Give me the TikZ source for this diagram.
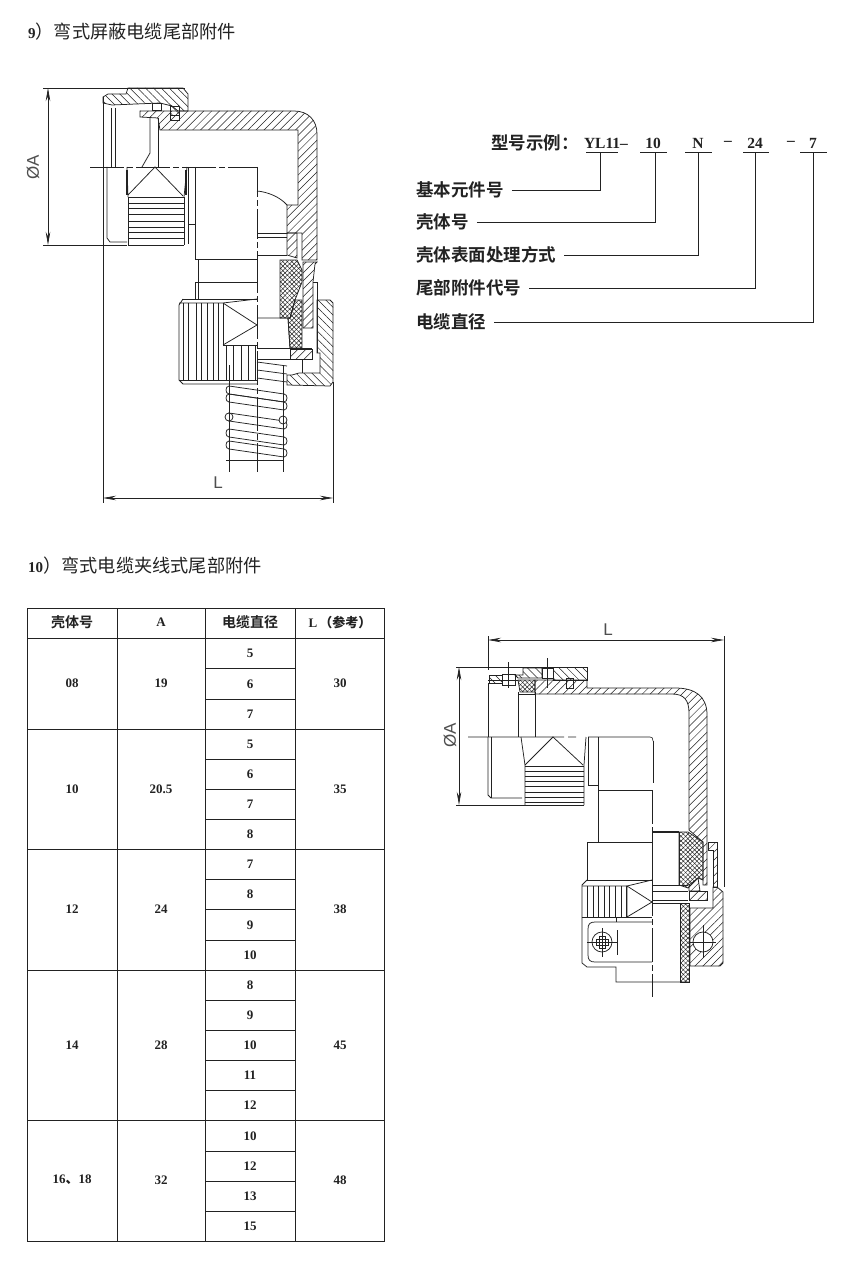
\documentclass[tikz,border=0pt]{standalone}
\usepackage{fontspec}
\setmainfont{Liberation Serif}
\newfontfamily\cjk{Noto Sans CJK SC}
\newfontfamily\cjkb{Noto Sans CJK SC Bold}
\newfontfamily\dimf{Liberation Sans}
\usetikzlibrary{arrows.meta,patterns.meta}
\definecolor{ink}{HTML}{222222}
\tikzset{
  base/.style={line width=.75pt,draw=ink},
  thin line/.style={line width=.55pt,draw=ink},
  hatch/.style={base,pattern={Lines[angle=45,distance=5.6pt,line width=.5pt]},pattern color=ink},
  hatchb/.style={base,pattern={Lines[angle=-45,distance=5.6pt,line width=.5pt]},pattern color=ink},
  xhatch/.style={base,preaction={pattern={Lines[angle=45,distance=3.2pt,line width=.5pt]},pattern color=ink},pattern={Lines[angle=-45,distance=3.2pt,line width=.5pt]},pattern color=ink},
  dimline/.style={line width=.7pt,draw=ink,{Stealth[length=13pt,width=4.5pt]}-{Stealth[length=13pt,width=4.5pt]}},
  center/.style={line width=.6pt,draw=ink,dash pattern=on 34pt off 3pt on 6pt off 3pt},
  ttl/.style={inner sep=0,anchor=west,font=\cjk\fontsize{18.2}{19}\selectfont,text=ink},
  lab/.style={inner sep=0,anchor=west,font=\cjkb\fontsize{17.5}{18}\selectfont,text=ink},
  code/.style={inner sep=0,font=\bfseries\fontsize{15.5}{16}\selectfont,text=ink},
  cell/.style={inner sep=0,font=\bfseries\fontsize{13}{14}\selectfont,text=ink},
  head/.style={inner sep=0,font=\cjkb\fontsize{14}{15}\selectfont,text=ink},
  dimt/.style={inner sep=0,font=\dimf\fontsize{17}{18}\selectfont,text=ink!80},
  tline/.style={line width=.8pt,draw=ink},
  leader/.style={line width=.8pt,draw=ink}
}
\begin{document}
\begin{tikzpicture}[x=1pt,y=-1pt]
\useasboundingbox (0,0) rectangle (850,1273);
\fill[white] (0,0) rectangle (850,1273);

% ---------- titles
\node[ttl] (t9) at (28,32) {{\fontspec{Liberation Serif}\fontsize{15}{16}\selectfont\bfseries 9}）弯式屏蔽电缆尾部附件};
\node[ttl] (t10) at (28,566) {{\fontspec{Liberation Serif}\fontsize{15}{16}\selectfont\bfseries 10}）弯式电缆夹线式尾部附件};

% ---------- model code
\node[lab,anchor=east] (mh) at (579,143) {型号示例：};
\node[code] (m1) at (606,143) {YL11–};
\node[code] (m2) at (653,143) {10};
\node[code] (m3) at (698,143) {N};
\node[code] (m4) at (728,143) {–};
\node[code] (m5) at (755,143) {24};
\node[code] (m6) at (791,143) {–};
\node[code] (m7) at (813,143) {7};
\foreach \a/\b/\n/\x in {586/618/u1/600,640/667/u2/655,685/712/u3/698,743/769/u4/755,800/827/u5/813}{
  \draw[leader] (\a,152) -- (\b,152);
  \coordinate (\n) at (\x,152);
}
\node[lab] (l1) at (416,190) {基本元件号};
\node[lab] (l2) at (416,222) {壳体号};
\node[lab] (l3) at (416,255) {壳体表面处理方式};
\node[lab] (l4) at (416,288) {尾部附件代号};
\node[lab] (l5) at (416,322) {电缆直径};
\draw[leader] ([xshift=8pt]l1.east) -| (u1);
\draw[leader] ([xshift=8pt]l2.east) -| (u2);
\draw[leader] ([xshift=8pt]l3.east) -| (u3);
\draw[leader] ([xshift=8pt]l4.east) -| (u4);
\draw[leader] ([xshift=8pt]l5.east) -| (u5);

% ---------- table
\draw[tline] (27,608) rectangle (384,1241);
\foreach \x in {117,205,295} \draw[tline] (\x,608) -- (\x,1241);
\foreach \y in {638,729,849,970,1120} \draw[tline] (27,\y) -- (384,\y);
\foreach \y in {668,699,759,789,819,879,909,940,1000,1030,1060,1090,1151,1181,1211} \draw[tline] (205,\y) -- (295,\y);
\node[head] (h1) at (72,622) {壳体号};
\node[cell] (h2) at (161,622) {A};
\node[head] (h3) at (250,622) {电缆直径};
\node[cell] (h4) at (340,622) {L\,{\cjkb（参考）}};
\foreach \y/\a/\b/\c [count=\i] in {683/08/19/30,789/10/20.5/35,909/12/24/38,1045/14/28/45,1180/{16{\cjkb 、}18}/32/48}{
  \node[cell] (sa\i) at (72,\y) {\a};
  \node[cell] (sb\i) at (161,\y) {\b};
  \node[cell] (sc\i) at (340,\y) {\c};
}
\foreach \y/\t [count=\i] in {653/5,684/6,714/7,744/5,774/6,804/7,834/8,864/7,894/8,925/9,955/10,985/8,1015/9,1045/10,1075/11,1105/12,1136/10,1166/12,1196/13,1226/15}{
  \node[cell] (d\i) at (250,\y) {\t};
}

% ---------- upper connector drawing
\draw[thin line] (43,88) -- (185,88);
\draw[thin line] (43,245) -- (127,245);
\draw[dimline] (48,88) -- (48,245);
\node[dimt,rotate=90] (da1) at (33,167) {ØA};
\draw[thin line] (103,97) -- (103,503);
\draw[thin line] (333,382) -- (333,503);
\draw[dimline] (103,498) -- (333,498);
\node[dimt] (dl1) at (218,483) {L};
% coupling nut
\draw[hatchb] (103,97) -- (108,94) -- (126,94) -- (128,88) -- (183,88) -- (188,94) -- (188,111) -- (178,111) -- (172,106) -- (160,103) -- (112,105) -- (103,103) -- cycle;
\draw[base,fill=white] (152,103) rectangle (161,110);
\draw[hatchb] (170,106) rectangle (179,115);
\draw[base,fill=white] (170,115) rectangle (179,120);
% elbow shell
\draw[hatch] (140,111) -- (160,111) -- (178,111) -- (188,111) -- (294,111) .. controls (308,111) and (317,120) .. (317,134) -- (317,260) -- (302,260) -- (302,233) -- (287,233) -- (287,205) -- (298,205) -- (298,130) -- (160,130) -- (158,118) -- (140,117) -- cycle;
\draw[hatch] (303,262) -- (317,262) -- (315,264) -- (313,282) -- (313,328) -- (303,328) -- cycle;
% inner
\draw[base] (111,108) -- (111,167) (115,108) -- (115,167);
\draw[base] (150,118) -- (150,153) -- (142,167);
\draw[base] (158,118) -- (158,167);
\draw[center] (90,167) -- (258,167);
\draw[base] (107,167) -- (107,238) -- (110,242) -- (127,242);
\draw[base] (127,167) -- (128,197);
\draw[base] (187,167) -- (184,197);
\draw[base] (128,195) -- (155,167) -- (183,196);
\draw[line width=1.2pt,draw=ink] (127,170) -- (127,195) (186,170) -- (186,195);
\foreach \y in {197,203,208,214,221,227,232,238,245} \draw[base] (128,\y) -- (184,\y);
\draw[base] (128,197) -- (128,245) (184,197) -- (184,245);
\draw[base] (188,167) -- (188,244);
\draw[base] (188,224) -- (195,224);
\draw[base] (195,167) -- (195,259) -- (257,259);
\draw[center,dash pattern=on 30pt off 3pt on 6pt off 3pt] (257,167) -- (257,259);
\draw[base] (257,191) .. controls (268,192) and (280,197) .. (287,205);
\draw[base] (257,233) -- (287,233) (257,237) -- (287,237) (257,255) -- (287,255);
\draw[hatch] (287,233) -- (297,233) -- (297,258) -- (287,255) -- cycle;
% packing
\draw[xhatch] (280,260) -- (297,260) -- (302,270) -- (302,282) -- (295,300) -- (290,318) -- (280,318) -- cycle;
\draw[xhatch] (295,300) -- (302,300) -- (302,348) -- (290,348) -- (288,318) -- (290,318) -- cycle;
\draw[base] (198,259) -- (198,299) (195,282) -- (195,299) (195,282) -- (257,282);
\draw[base] (182,299) -- (257,299);
\draw[center] (257,259) -- (257,472);
\draw[base] (257,318) -- (288,318) (288,318) -- (290,348);
\draw[base] (257,348) -- (312,348) (257,359) -- (312,359);
\draw[hatch] (290,349) -- (312,349) -- (312,359) -- (290,359) -- cycle;
\draw[base] (313,282) -- (317,282) -- (317,353);
% knurled clamp nut
\draw[base] (179,305) -- (179,380) -- (183,384) -- (257,384);
\draw[base] (179,305) -- (183,299) (179,303) -- (223,303) -- (257,299);
\draw[base] (179,380) -- (257,380);
\foreach \x in {183,188,196,201,207,213,218} \draw[base] (\x,303) -- (\x,380);
\draw[base] (223,303) -- (223,345) -- (257,345);
\draw[base] (223,303) -- (257,325) -- (223,345);
\foreach \x in {226,233,241,248,255} \draw[base] (\x,345) -- (\x,380);
% right nut
\draw[hatchb] (317,300) -- (330,300) -- (333,303) -- (333,382) -- (330,386) -- (287,385) -- (287,375) -- (292,375) -- (299,373) -- (320,373) -- (320,353) -- (317,353) -- cycle;
\draw[base] (302,359) -- (302,373);
% spring
\foreach \y in {362,370,378} \draw[base] (257,\y) -- (287,\y+4);
\foreach \y in {386,394,413,429,441}{
  \draw[base] (229,\y) -- (284,\y+8);
  \draw[base] (229,\y) .. controls (225,\y) and (225,\y+8) .. (229,\y+8);
  \draw[base] (229,\y+8) -- (284,\y+16);
  \draw[base] (284,\y+8) .. controls (288,\y+8) and (288,\y+16) .. (284,\y+16);
}
\draw[base,fill=white] (229,417) circle (4);
\draw[base,fill=white] (283,420) circle (4);
\draw[base] (229,365) -- (229,472) (283,365) -- (283,472);
\draw[base] (226,460) -- (284,460);

% ---------- lower connector drawing
\draw[thin line] (488,636) -- (488,670);
\draw[thin line] (724,636) -- (724,887);
\draw[dimline] (488,640) -- (724,640);
\node[dimt] (dl2) at (608,630) {L};
\draw[thin line] (456,667) -- (587,667);
\draw[thin line] (456,805) -- (525,805);
\draw[dimline] (459,667) -- (459,805);
\node[dimt,rotate=90] (da2) at (450,735) {ØA};
% nut pieces
\draw[hatchb] (489,675) -- (502,675) -- (502,683) -- (489,683) -- cycle;
\draw[base] (502,674) rectangle (515,685);
\draw[hatchb] (515,675) -- (523,675) -- (523,668) -- (542,668) -- (542,678) -- (518,678) -- cycle;
\draw[base] (542,668) rectangle (553,678);
\draw[hatchb] (553,667) -- (587,667) -- (587,680) -- (553,680) -- cycle;
\draw[base] (566,678) rectangle (573,688);
\draw[thin line] (508,662) -- (508,688) (547,658) -- (547,688);
% shell
\draw[hatch] (535,680) -- (587,680) -- (587,688) -- (675,688) .. controls (695,688) and (707,696) .. (707,715) -- (707,885) -- (703,885) -- (703,842) -- (689,830) -- (689,713) .. controls (689,700) and (684,694) .. (672,694) -- (535,694) -- cycle;
\draw[xhatch] (518,680) -- (535,680) -- (535,692) -- (520,692) -- cycle;
\draw[base] (488,680) -- (518,680);
\draw[base] (488,683) -- (488,737) (518,692) -- (518,737) (535,692) -- (535,737) (518,694) -- (535,694);
\draw[center,dash pattern=on 96pt off 4pt on 8pt off 12pt] (468,737) -- (650,737) .. controls (652,737) and (653,738) .. (653,741);
\draw[base] (653,741) -- (653,783);
\draw[base] (488,737) -- (488,795) -- (491,798) -- (522,798);
\draw[base] (491,737) -- (491,798);
\draw[base] (521,737) -- (525,765) -- (525,805);
\draw[base] (525,765) -- (553,737) -- (583,765);
\draw[base] (586,737) -- (584,765) -- (584,805);
\foreach \y in {766,771,776,781,786,792,797,802,805} \draw[base] (525,\y) -- (584,\y);
\draw[base] (588,737) -- (588,785) -- (598,785);
\draw[base] (598,737) -- (598,842);
\draw[base] (598,790) -- (653,790);
\draw[base] (587,842) -- (652,842) (587,842) -- (587,880) -- (652,880);
\draw[center] (652,790) -- (652,997);
% packing and retainer
\draw[base,line width=1.1pt] (652,832) -- (679,832);
\draw[base] (652,832) -- (652,903) (679,832) -- (679,885);
\draw[xhatch] (679,832) -- (688,832) -- (703,842) -- (703,880) -- (698,878) -- (688,888) -- (679,885) -- cycle;
\draw[base] (652,885) -- (688,885) (652,891) -- (688,891) (652,900) -- (688,900) (652,903) -- (680,903);
\draw[hatch] (689,891) -- (707,891) -- (707,900) -- (689,900) -- cycle;
\draw[hatch] (689,885) -- (698,878) -- (700,891) -- (689,891) -- cycle;
\draw[hatch] (708,842) -- (717,842) -- (717,887) -- (713,887) -- (713,850) -- (708,850) -- cycle;
% clamp nut
\draw[base] (587,880) -- (582,885) -- (582,963) -- (587,967) -- (616,967) -- (616,982) -- (689,982);
\draw[base] (582,886) -- (627,886) -- (652,880);
\draw[base] (582,917) -- (652,917);
\foreach \x in {587,593,598,604,609,615,621,626} \draw[base] (\x,886) -- (\x,917);
\draw[base] (627,886) -- (652,902) -- (627,917) -- cycle;
\draw[base] (652,922) -- (595,922) .. controls (590,922) and (588,924) .. (588,929) -- (588,955) .. controls (588,960) and (590,962) .. (595,962) -- (652,962);
\draw[base] (616,917) -- (616,922) (617,930) -- (617,955);
\draw[base] (602,942) circle (10);
\draw[thin line] (587,942) -- (617,942) (602,928) -- (602,957);
\draw[base] (599,936) rectangle (605,948) (596,939) rectangle (608,945);
% right nut
\draw[hatch] (713,887) -- (717,887) -- (723,892) -- (723,963) -- (720,966) -- (690,966) -- (690,908) -- (713,908) -- cycle;
\draw[xhatch] (680,903) -- (689,903) -- (689,982) -- (680,982) -- cycle;
\draw[base,fill=white] (703,942) circle (10);
\draw[thin line] (690,942) -- (716,942) (703,925) -- (703,958);
\end{tikzpicture}
\end{document}
